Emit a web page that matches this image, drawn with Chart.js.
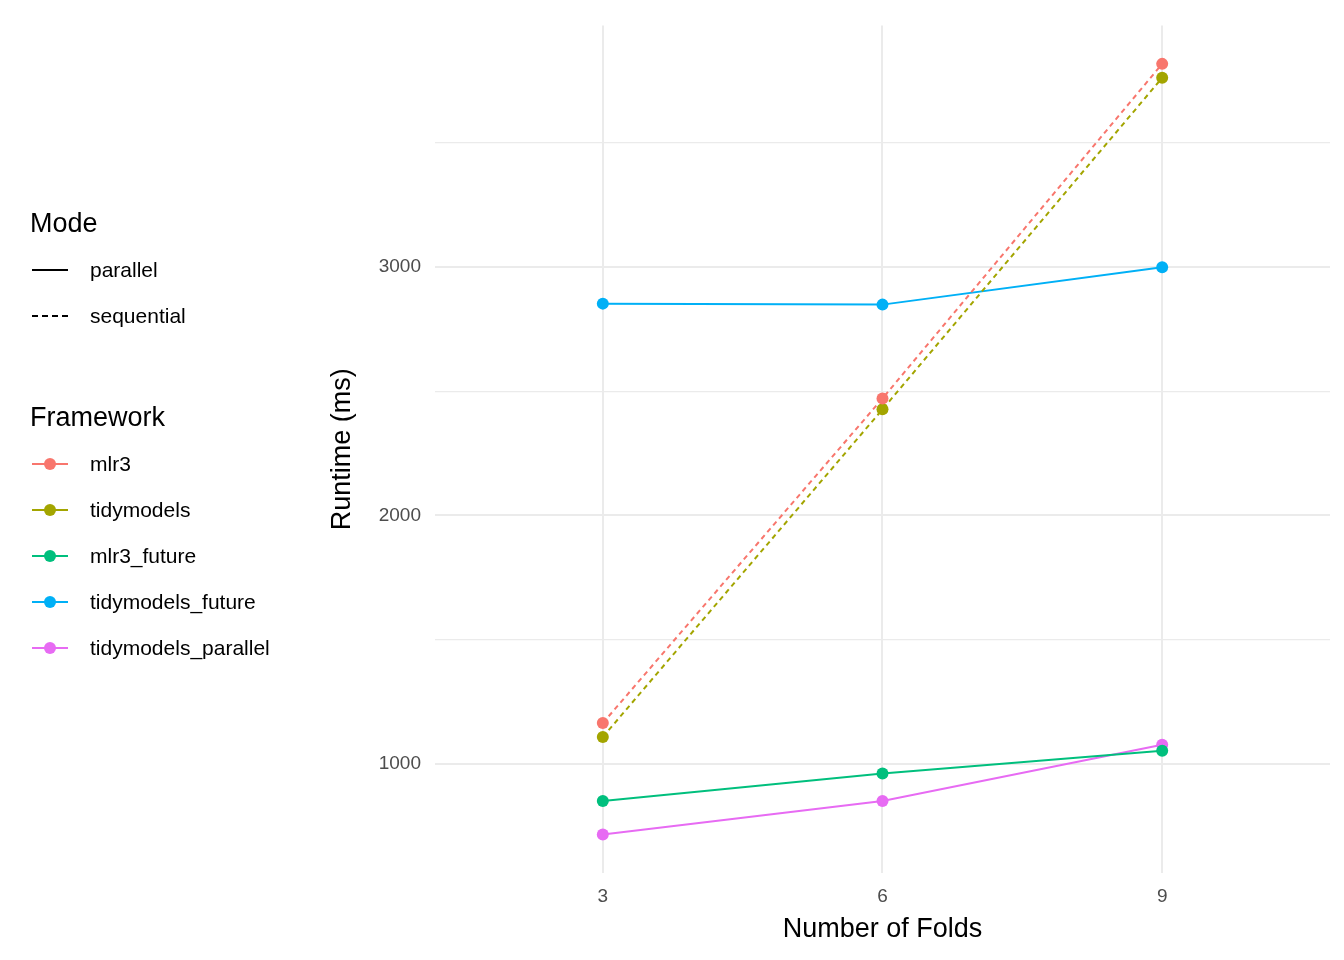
<!DOCTYPE html>
<html>
<head>
<meta charset="utf-8">
<script src="https://cdn.jsdelivr.net/npm/chart.js@4"></script>
<style>
  body { margin: 0; background: #fff; font-family: "Liberation Sans", Arial, sans-serif; }
  #wrap { position: relative; width: 1344px; height: 960px; }
  canvas { position: absolute; left: 0; top: 0; }
  .legend { position: absolute; left: 30px; color: #000; }
  .legend h3 { font-weight: normal; font-size: 27px; margin: 0 0 8px 0; }
  .item { display: flex; align-items: center; height: 46px; font-size: 21px; }
  .key { width: 40px; height: 20px; margin-right: 20px; position: relative; }
  .key .ln { position: absolute; left: 2px; right: 2px; top: 9px; height: 0; border-top: 2px solid #000; }
  .key .dot { position: absolute; left: 14px; top: 4px; width: 12px; height: 12px; border-radius: 50%; }
</style>
</head>
<body>
<div id="wrap">
  <canvas id="c" width="1344" height="960"></canvas>
  <div class="legend" style="top:208px">
    <h3>Mode</h3>
    <div class="item"><div class="key"><div class="ln"></div></div>parallel</div>
    <div class="item"><div class="key"><div class="ln" style="border-top-style:dashed"></div></div>sequential</div>
  </div>
  <div class="legend" id="fw" style="top:402px"><h3>Framework</h3></div>
</div>
<script>
const folds = [3, 6, 9];
const frameworks = ["mlr3", "tidymodels", "mlr3_future", "tidymodels_future", "tidymodels_parallel"];
const colors = ["#F8766D", "#A3A500", "#00BF7D", "#00B0F6", "#E76BF3"];
const modes = ["sequential", "sequential", "parallel", "parallel", "parallel"];
const mlr3 = [1163, 2471, 3819];
const tidymodels = [1107, 2427, 3763];
const mlr3Future = [849, 960, 1052];
const tidymodelsFuture = [2853, 2849, 3000];
const tidymodelsParallel = [714, 849, 1076];
const series = [mlr3, tidymodels, mlr3Future, tidymodelsFuture, tidymodelsParallel];
const yTicks = [1000, 2000, 3000];

const fw = document.getElementById("fw");
frameworks.forEach((f, i) => {
  const d = document.createElement("div");
  d.className = "item";
  d.innerHTML = `<div class="key"><div class="ln" style="border-color:${colors[i]}"></div><div class="dot" style="background:${colors[i]}"></div></div>${f}`;
  fw.appendChild(d);
});

new Chart(document.getElementById("c"), {
  type: "line",
  data: {
    datasets: series.map((vals, i) => ({
      label: frameworks[i],
      data: vals.map((v, j) => ({ x: folds[j], y: v })),
      borderColor: colors[i],
      backgroundColor: colors[i],
      borderWidth: 2,
      borderDash: modes[i] === "sequential" ? [5, 4] : [],
      pointRadius: 6,
      pointBorderWidth: 0,
      tension: 0
    }))
  },
  options: {
    responsive: false,
    animation: false,
    layout: { padding: { left: 322, right: 14, top: 15, bottom: 10 } },
    plugins: { legend: { display: false }, tooltip: { enabled: false } },
    scales: {
      x: {
        type: "linear", min: 1.2, max: 10.8,
        afterBuildTicks: (s) => { s.ticks = folds.map(v => ({ value: v })); },
        afterFit: (s) => { s.height = 77; },
        grid: { color: "#ebebeb", lineWidth: 2, drawTicks: false },
        border: { display: false },
        ticks: { color: "#4d4d4d", font: { size: 19 }, padding: 12 },
        title: { display: true, text: "Number of Folds", color: "#000", font: { size: 27 }, padding: { top: 4 } }
      },
      y: {
        min: 559, max: 3974,
        afterBuildTicks: (s) => { s.ticks = [1500, 2500, 3500].concat(yTicks).map(v => ({ value: v })); },
        afterFit: (s) => { s.width = 113; },
        grid: { color: "#ebebeb", lineWidth: (ctx) => ctx.tick && ctx.tick.value % 1000 === 0 ? 2 : 1.3, drawTicks: false },
        border: { display: false },
        ticks: {
          color: "#4d4d4d", font: { size: 19 }, padding: 14,
          callback: (v) => yTicks.includes(v) ? String(v) : ""
        },
        title: { display: true, text: "Runtime (ms)", color: "#000", font: { size: 27 }, padding: { bottom: 4 } }
      }
    }
  }
});
</script>
</body>
</html>
